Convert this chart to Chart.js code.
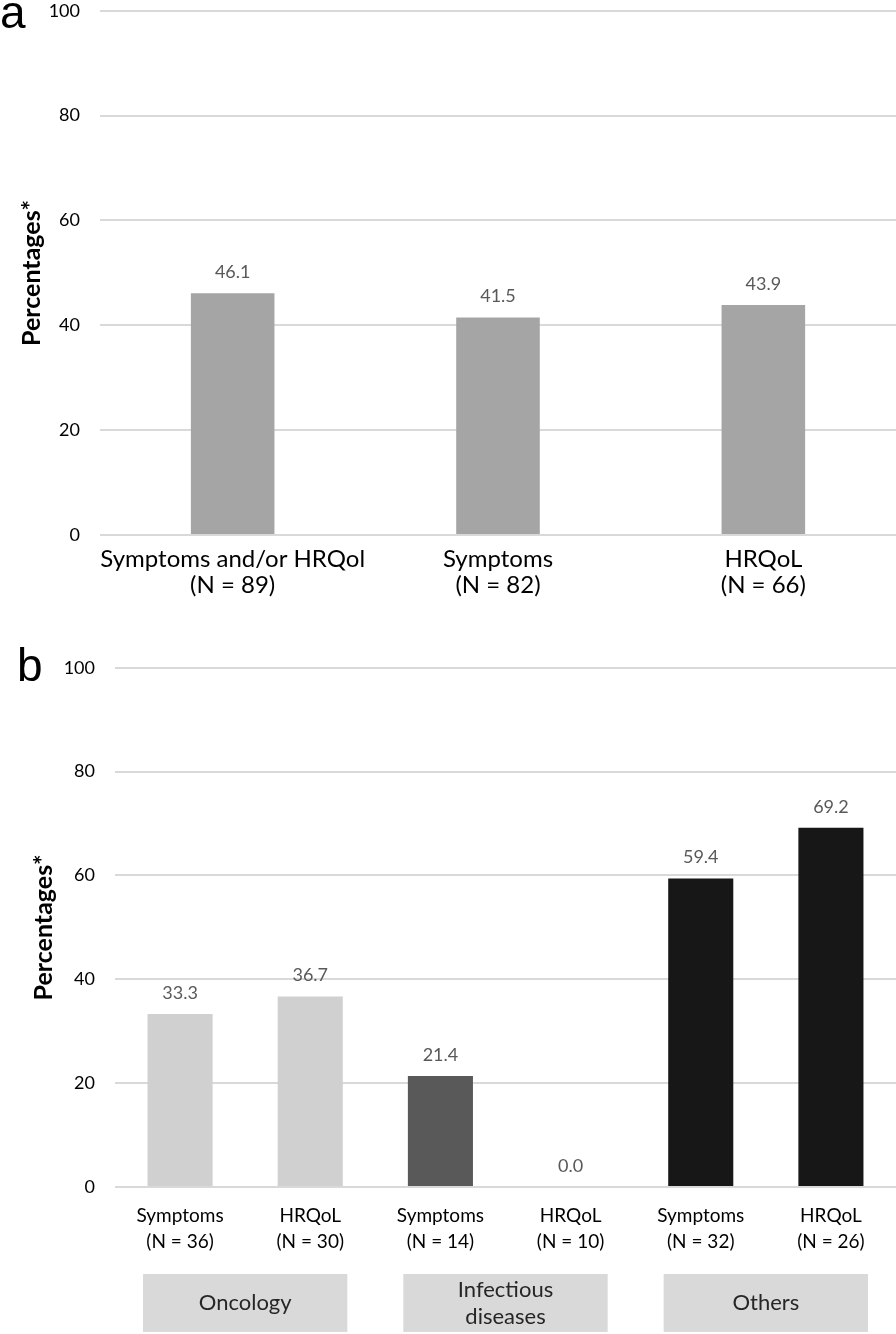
<!DOCTYPE html>
<html>
<head>
<meta charset="utf-8">
<script src="https://cdn.jsdelivr.net/npm/chart.js@4"></script>
<style>
  body { margin: 0; background: #fff; width: 896px; height: 1334px; position: relative; overflow: hidden; }
  .panel { position: absolute; left: 0; width: 896px; }
  #wrapA { top: -20px; height: 630px; }
  #wrapB { top: 637px; height: 697px; }
  .tag { position: absolute; font-family: "Liberation Sans", Arial, sans-serif; font-size: 46px; line-height: 1; color: #000; }
</style>
</head>
<body>
<div id="wrapA" class="panel"><canvas id="chartA"></canvas></div>
<div id="wrapB" class="panel"><canvas id="chartB"></canvas></div>
<div class="tag" style="left:0;top:-11px">a</div>
<div class="tag" style="left:17px;top:642px">b</div>
<script>
const yTicks = [0, 20, 40, 60, 80, 100];

const labelsA = [["Symptoms and/or HRQol", "(N = 89)"], ["Symptoms", "(N = 82)"], ["HRQoL", "(N = 66)"]];
const valuesA = [46.1, 41.5, 43.9];

const labelsB = [
  ["Symptoms", "(N = 36)"], ["HRQoL", "(N = 30)"],
  ["Symptoms", "(N = 14)"], ["HRQoL", "(N = 10)"],
  ["Symptoms", "(N = 32)"], ["HRQoL", "(N = 26)"]
];
const valuesB = [33.3, 36.7, 21.4, 0.0, 59.4, 69.2];
const colorsB = ["#d0d0d0", "#d0d0d0", "#595959", "#595959", "#171717", "#171717"];

const groupNames = [["Oncology"], ["Infectious", "diseases"], ["Others"]];
const groupMembers = [[0, 1], [2, 3], [4, 5]];

// value above each bar
const valueLabels = {
  id: "valueLabels",
  afterDatasetsDraw(chart) {
    const ctx = chart.ctx;
    const meta = chart.getDatasetMeta(0);
    ctx.save();
    ctx.fillStyle = "#595959";
    ctx.font = "18px Lato";
    ctx.textAlign = "center";
    ctx.textBaseline = "middle";
    meta.data.forEach((bar, i) => {
      ctx.fillText(chart.data.datasets[0].data[i].toFixed(1), bar.x, bar.y - 21);
    });
    ctx.restore();
  }
};

// grey group boxes under the x labels of panel b
const groupBoxes = {
  id: "groupBoxes",
  afterDraw(chart) {
    const ctx = chart.ctx;
    const xs = chart.scales.x;
    const step = xs.width / chart.data.labels.length;
    const top = chart.chartArea.bottom + 87;
    const h = 58;
    ctx.save();
    groupMembers.forEach((idx, g) => {
      const cx = idx.reduce((s, i) => s + xs.getPixelForValue(i), 0) / idx.length;
      const w = step * 1.57;
      ctx.fillStyle = "#d9d9d9";
      ctx.fillRect(cx - w / 2, top, w, h);
      ctx.fillStyle = "#262626";
      ctx.font = "22px Lato";
      ctx.textAlign = "center";
      ctx.textBaseline = "middle";
      const lines = groupNames[g];
      const lh = 27;
      lines.forEach((t, k) => {
        ctx.fillText(t, cx, top + h / 2 + (k - (lines.length - 1) / 2) * lh);
      });
    });
    ctx.restore();
  }
};

function yAxis(width, titlePad) {
  return {
    min: 0,
    max: 100,
    afterBuildTicks: s => { s.ticks = yTicks.map(v => ({ value: v })); },
    afterFit: s => { s.width = width; },
    ticks: { padding: 20, color: "#000", font: { family: "Lato", size: 18 } },
    grid: { color: "#d9d9d9", lineWidth: 2, drawTicks: false },
    border: { display: false },
    title: {
      display: true,
      text: "Percentages*",
      color: "#000",
      font: { family: "Lato", size: 25, weight: "bold" },
      padding: { top: titlePad, bottom: 0 }
    }
  };
}

new Chart(document.getElementById("chartA"), {
  type: "bar",
  data: {
    labels: labelsA,
    datasets: [{
      data: valuesA,
      backgroundColor: "#a5a5a5",
      barPercentage: 0.315,
      categoryPercentage: 1
    }]
  },
  options: {
    responsive: true,
    maintainAspectRatio: false,
    animation: false,
    layout: { padding: 0 },
    plugins: { legend: { display: false }, tooltip: { enabled: false } },
    scales: {
      x: {
        afterFit: s => { s.height = 75; },
        grid: { display: false },
        border: { display: false },
        ticks: { padding: 3, color: "#000", maxRotation: 0, autoSkip: false, font: { family: "Lato", size: 24, lineHeight: 1.08 } }
      },
      y: yAxis(100, 17)
    }
  },
  plugins: [valueLabels]
});

new Chart(document.getElementById("chartB"), {
  type: "bar",
  data: {
    labels: labelsB,
    datasets: [{
      data: valuesB,
      backgroundColor: colorsB,
      barPercentage: 0.5,
      categoryPercentage: 1
    }]
  },
  options: {
    responsive: true,
    maintainAspectRatio: false,
    animation: false,
    layout: { padding: 0 },
    plugins: { legend: { display: false }, tooltip: { enabled: false } },
    scales: {
      x: {
        afterFit: s => { s.height = 147; },
        grid: { display: false },
        border: { display: false },
        ticks: { padding: 8, color: "#000", maxRotation: 0, autoSkip: false, font: { family: "Lato", size: 19, lineHeight: 1.37 } }
      },
      y: yAxis(115, 29)
    }
  },
  plugins: [valueLabels, groupBoxes]
});
</script>
</body>
</html>
